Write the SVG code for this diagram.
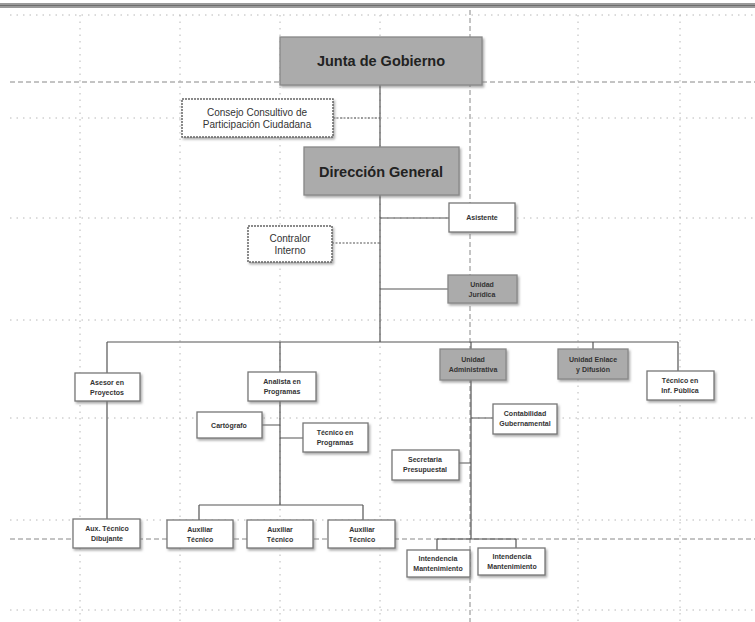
<svg xmlns="http://www.w3.org/2000/svg" width="755" height="622" viewBox="0 0 755 622">
<style>
.grid{stroke:#b8b8b8;stroke-width:1;stroke-dasharray:1.5 5;fill:none}
.gridd{stroke:#888;stroke-width:1;stroke-dasharray:5 3;fill:none}
.con{stroke:#555;stroke-width:1.2;fill:none}
.cond{stroke:#555;stroke-width:1.2;stroke-dasharray:2 1.5;fill:none}
.box{fill:#fff;stroke:#777;stroke-width:1.3;filter:url(#sh)}
.boxd{fill:#fff;stroke:#666;stroke-width:1.5;stroke-dasharray:2 1;filter:url(#sh)}
.gbox{fill:#ababab;stroke:#888;stroke-width:1.3;filter:url(#sh)}
.big{font-family:"Liberation Sans",Arial,sans-serif;font-weight:bold;font-size:14.5px;fill:#222;text-anchor:middle}
.mid{font-family:"Liberation Sans",Arial,sans-serif;font-size:10px;fill:#333;text-anchor:middle}
.sm{font-family:"Liberation Sans",Arial,sans-serif;font-weight:bold;font-size:7px;fill:#333;text-anchor:middle}
</style>
<defs>
<filter id="sh" x="-20%" y="-20%" width="140%" height="150%">
<feDropShadow dx="1.5" dy="2" stdDeviation="1.2" flood-color="#777" flood-opacity="0.6"/>
</filter>
</defs>
<rect width="755" height="622" fill="#fff"/>
<!-- top bar -->
<rect x="0" y="3" width="755" height="5" fill="#9a9a9a"/>
<line x1="0" y1="5.5" x2="755" y2="5.5" stroke="#6d6d6d" stroke-width="1"/>
<!-- grid -->
<g id="grid">
<path class="grid" d="M10 15H755M10 118H755M10 218H755M10 320H755M10 418H755M10 520H755M10 610H755"/>
<path class="grid" d="M80 15V622M180 15V622M280 15V622M380 15V622M578 15V622M680 15V622"/>
<path class="gridd" d="M470 10V622"/>
<path class="gridd" d="M10 82H755M10 539H755"/>
</g>
<g id="connectors">
<path class="con" d="M380 85V342"/>
<path class="cond" d="M333 118H380"/>
<path class="con" d="M380 218H449"/>
<path class="cond" d="M332 243H380"/>
<path class="con" d="M380 289H448"/>
<path class="con" d="M107 342H678"/>
<path class="con" d="M107 342V373M107 401V519"/>
<path class="con" d="M280 342V372M280 401V505"/>
<path class="con" d="M262 425H280M280 438H303"/>
<path class="con" d="M199 505H363M199 505V520M363 505V520"/>
<path class="con" d="M471 342V349M471 380V539"/>
<path class="con" d="M593 342V349M678 342V371"/>
<path class="con" d="M471 418H493M459 463H471"/>
<path class="con" d="M437 539H516M437 539V550M516 539V548"/>
</g>
<g id="junta"><rect class="gbox" x="280" y="37" width="202" height="48"/><text class="big" x="381" y="66">Junta de Gobierno</text></g>
<g id="consejo"><rect class="boxd" x="182" y="99" width="151" height="38"/><text class="mid" x="257" y="116">Consejo Consultivo de</text><text class="mid" x="257" y="128">Participación Ciudadana</text></g>
<g id="direccion"><rect class="gbox" x="304" y="147" width="155" height="48"/><text class="big" x="381" y="177">Dirección General</text></g>
<g id="asistente"><rect class="box" x="449" y="203" width="66" height="29"/><text class="sm" x="482" y="220">Asistente</text></g>
<g id="contralor"><rect class="boxd" x="248" y="226" width="84" height="36"/><text class="mid" x="290" y="242">Contralor</text><text class="mid" x="290" y="254">Interno</text></g>
<g id="juridica"><rect class="gbox" x="448" y="275" width="69" height="28"/><text class="sm" x="482" y="287">Unidad</text><text class="sm" x="482" y="297">Jurídica</text></g>
<g id="asesor"><rect class="box" x="75" y="373" width="65" height="28"/><text class="sm" x="107" y="385">Asesor en</text><text class="sm" x="107" y="395">Proyectos</text></g>
<g id="analista"><rect class="box" x="248" y="372" width="68" height="29"/><text class="sm" x="282" y="384">Analista en</text><text class="sm" x="282" y="394">Programas</text></g>
<g id="administrativa"><rect class="gbox" x="440" y="349" width="66" height="31"/><text class="sm" x="473" y="362">Unidad</text><text class="sm" x="473" y="372">Administrativa</text></g>
<g id="enlace"><rect class="gbox" x="558" y="349" width="70" height="30"/><text class="sm" x="593" y="362">Unidad Enlace</text><text class="sm" x="593" y="372">y Difusión</text></g>
<g id="tecnico-inf"><rect class="box" x="647" y="371" width="67" height="29"/><text class="sm" x="680" y="383">Técnico en</text><text class="sm" x="680" y="393">Inf. Pública</text></g>
<g id="cartografo"><rect class="box" x="197" y="412" width="65" height="26"/><text class="sm" x="229" y="428">Cartógrafo</text></g>
<g id="tecnico-prog"><rect class="box" x="303" y="423" width="65" height="29"/><text class="sm" x="335" y="435">Técnico en</text><text class="sm" x="335" y="445">Programas</text></g>
<g id="contabilidad"><rect class="box" x="493" y="404" width="64" height="30"/><text class="sm" x="525" y="416">Contabilidad</text><text class="sm" x="525" y="426">Gubernamental</text></g>
<g id="secretaria"><rect class="box" x="392" y="450" width="67" height="30"/><text class="sm" x="425" y="462">Secretaria</text><text class="sm" x="425" y="472">Presupuestal</text></g>
<g id="aux-dibujante"><rect class="box" x="73" y="519" width="67" height="29"/><text class="sm" x="107" y="531">Aux. Técnico</text><text class="sm" x="107" y="541">Dibujante</text></g>
<g id="auxiliar1"><rect class="box" x="167" y="520" width="66" height="28"/><text class="sm" x="200" y="532">Auxiliar</text><text class="sm" x="200" y="542">Técnico</text></g>
<g id="auxiliar2"><rect class="box" x="247" y="520" width="66" height="28"/><text class="sm" x="280" y="532">Auxiliar</text><text class="sm" x="280" y="542">Técnico</text></g>
<g id="auxiliar3"><rect class="box" x="328" y="520" width="67" height="28"/><text class="sm" x="362" y="532">Auxiliar</text><text class="sm" x="362" y="542">Técnico</text></g>
<g id="intendencia1"><rect class="box" x="407" y="550" width="63" height="27"/><text class="sm" x="438" y="561">Intendencia</text><text class="sm" x="438" y="571">Mantenimiento</text></g>
<g id="intendencia2"><rect class="box" x="478" y="548" width="67" height="27"/><text class="sm" x="512" y="559">Intendencia</text><text class="sm" x="512" y="569">Mantenimiento</text></g>
</svg>
